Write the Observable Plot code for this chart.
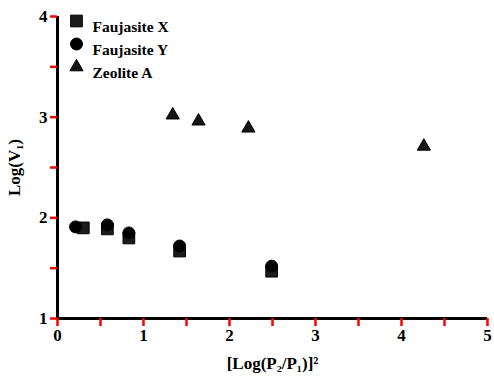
<!DOCTYPE html>
<html>
<head>
<meta charset="utf-8">
<script src="https://cdn.jsdelivr.net/npm/d3@7"></script>
<script src="https://cdn.jsdelivr.net/npm/@observablehq/plot@0.6"></script>
<style>
  html, body { margin: 0; padding: 0; background: #fff; }
  #chart svg { display: block; }
</style>
</head>
<body>
<div id="chart"></div>
<script>
// ---- data ----
const seriesNames = ["Faujasite X", "Faujasite Y", "Zeolite A"];
const xFaujX = [0.30, 0.58, 0.83, 1.42, 2.49];
const yFaujX = [1.90, 1.89, 1.80, 1.67, 1.47];
const xFaujY = [0.21, 0.58, 0.83, 1.42, 2.49];
const yFaujY = [1.91, 1.93, 1.85, 1.72, 1.52];
const xZeoA = [1.34, 1.64, 2.22, 4.26];
const yZeoA = [3.02, 2.96, 2.89, 2.71];
const xMajorTicks = [0, 1, 2, 3, 4, 5];
const xMinorTicks = [0.5, 1.5, 2.5, 3.5, 4.5];
const yMajorTicks = [1, 2, 3, 4];
const yMinorTicks = [1.5, 2.5, 3.5];
const xLabel = "[Log(P₂/P₁)]²";
const yLabel = "Log(V₁)";

const toRows = (xs, ys) => xs.map((x, i) => ({x, y: ys[i]}));
const faujX = toRows(xFaujX, yFaujX);
const faujY = toRows(xFaujY, yFaujY);
const zeoA = toRows(xZeoA, yZeoA);

const symbols = ["square", "circle", "triangle"];
const radii = [6.6, 6, 4.9];
const fills = ["#1c1c1c", "#000", "#151515"];

const legendMarks = seriesNames.flatMap((name, i) => [
  Plot.dot([name], {frameAnchor: "top-left", dx: 19, dy: 4.5 + 23 * i, symbol: () => symbols[i], r: radii[i], fill: fills[i], stroke: "#000", strokeWidth: 1}),
  Plot.text([name], {frameAnchor: "top-left", dx: 35, dy: 4.5 + 23 * i, text: d => d, textAnchor: "start", fontSize: 15.5, fontWeight: "bold", fill: "#000"})
]);

const allXTicks = [...xMajorTicks, ...xMinorTicks];
const allYTicks = [...yMajorTicks, ...yMinorTicks];

const chart = Plot.plot({
  width: 494,
  height: 376,
  marginLeft: 57,
  marginRight: 7,
  marginTop: 16,
  marginBottom: 58,
  style: {fontFamily: "'Liberation Serif', 'Times New Roman', serif", fontWeight: "bold", fontSize: "17px", color: "#000", background: "#fff"},
  x: {domain: [0, 5]},
  y: {domain: [1, 4]},
  marks: [
    Plot.axisX({ticks: xMajorTicks, tickSize: 0, tickPadding: 10, tickFormat: d => String(d), fontSize: 17, label: xLabel, labelAnchor: "center", labelOffset: 50, labelArrow: "none"}),
    Plot.axisY({ticks: yMajorTicks, tickSize: 0, tickPadding: 10, tickFormat: d => String(d), fontSize: 17, label: yLabel, labelAnchor: "center", labelOffset: 50, labelArrow: "none"}),
    Plot.dot(faujX, {x: "x", y: "y", symbol: () => "square", r: radii[0], fill: fills[0], stroke: "#000", strokeWidth: 1}),
    Plot.dot(faujY, {x: "x", y: "y", symbol: () => "circle", r: radii[1], fill: fills[1], stroke: "#000", strokeWidth: 1}),
    Plot.dot(zeoA, {x: "x", y: "y", symbol: () => "triangle", r: radii[2], fill: fills[2], stroke: "#000", strokeWidth: 1}),
    ...legendMarks,
    Plot.ruleX([0], {stroke: "#000", strokeWidth: 3}),
    Plot.ruleY([1], {stroke: "#000", strokeWidth: 3}),
    Plot.ruleX(allXTicks, {x: d => d, y1: 1, y2: 1, insetBottom: -8, stroke: "red", strokeWidth: 2.5}),
    Plot.ruleY(allYTicks, {y: d => d, x1: 0, x2: 0, insetLeft: -7, stroke: "red", strokeWidth: 2.5})
  ]
});
document.getElementById("chart").appendChild(chart);
</script>
</body>
</html>
